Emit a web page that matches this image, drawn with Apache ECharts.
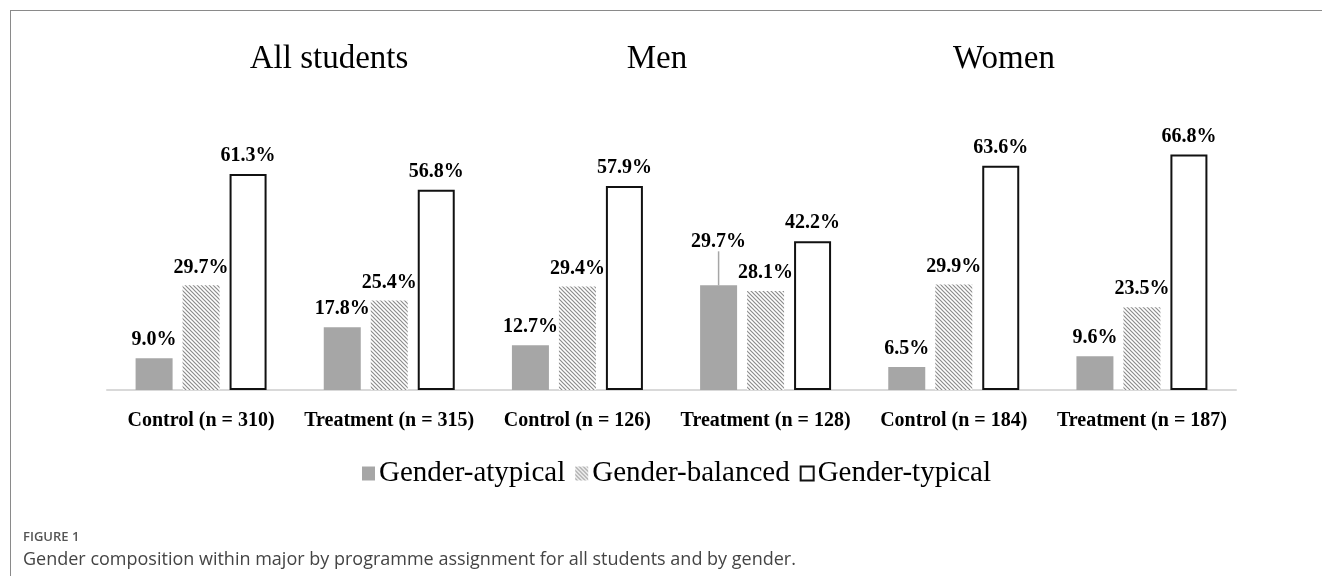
<!DOCTYPE html>
<html>
<head>
<meta charset="utf-8">
<script src="https://cdn.jsdelivr.net/npm/echarts@6/dist/echarts.min.js"></script>
<style>
  html, body { margin: 0; padding: 0; background: #fff; }
  #frame { position: absolute; left: 10px; top: 10px; right: 0; bottom: 0;
           border-left: 1px solid #8a8a8a; border-top: 1px solid #8a8a8a; }
  #chart { position: absolute; left: 0; top: 0; width: 1322px; height: 576px; }
</style>
</head>
<body>
<div id="frame"></div>
<div id="chart"></div>
<script>
const categories = ["Control (n = 310)", "Treatment (n = 315)", "Control (n = 126)",
                    "Treatment (n = 128)", "Control (n = 184)", "Treatment (n = 187)"];
const groupTitles = ["All students", "Men", "Women"];
const atypical = [9.0, 17.8, 12.7, 29.7, 6.5, 9.6];
const balanced = [29.7, 25.4, 29.4, 28.1, 29.9, 23.5];
const typical = [61.3, 56.8, 57.9, 42.2, 63.6, 66.8];

const serif = "'Liberation Serif', 'Times New Roman', serif";
const movedLabel = 3; // the Men/Treatment atypical label sits higher, with a leader line

// diagonal hatch for gender-balanced
function hatch() {
    const s = 4;
    const c = document.createElement("canvas");
    c.width = s; c.height = s;
    const g = c.getContext("2d");
    g.fillStyle = "#fff";
    g.fillRect(0, 0, s, s);
    g.strokeStyle = "#8c8c8c";
    g.lineWidth = 1.2;
    g.beginPath();
    g.moveTo(0, 0); g.lineTo(s, s);
    g.moveTo(-1, s - 1); g.lineTo(1, s + 1);
    g.moveTo(s - 1, -1); g.lineTo(s + 1, 1);
    g.stroke();
    return { image: c, repeat: "repeat" };
}

const barLabel = {
    show: true,
    position: "top",
    distance: 8,
    color: "#000",
    fontFamily: serif,
    fontWeight: "bold",
    fontSize: 20,
    formatter: p => p.value.toFixed(1) + "%"
};

const titleStyle = { fontFamily: serif, fontWeight: "normal", fontSize: 33, color: "#000" };

const chart = echarts.init(document.getElementById("chart"));
chart.setOption({
    animation: false,
    title: [
        { text: groupTitles[0], left: 324, top: 38, textAlign: "center", textStyle: titleStyle },
        { text: groupTitles[1], left: 652, top: 38, textAlign: "center", textStyle: titleStyle },
        { text: groupTitles[2], left: 999, top: 38, textAlign: "center", textStyle: titleStyle },
        { text: "FIGURE 1", left: 18, top: 526,
          textStyle: { fontFamily: "'Open Sans', sans-serif", fontWeight: 600, fontSize: 13, color: "#555" } },
        { text: "Gender composition within major by programme assignment for all students and by gender.",
          left: 18, top: 546,
          textStyle: { fontFamily: "'Open Sans', sans-serif", fontWeight: "normal", fontSize: 18, color: "#444" } }
    ],
    legend: {
        left: 357,
        top: 454,
        icon: "rect",
        itemWidth: 13,
        itemHeight: 14,
        itemGap: 10,
        textStyle: { fontFamily: serif, fontSize: 29, color: "#000", padding: [0, 0, 0, -1] },
        data: ["Gender-atypical", "Gender-balanced", "Gender-typical"]
    },
    grid: { left: 107, right: 86, top: 143.3, bottom: 186 },
    xAxis: {
        type: "category",
        data: categories,
        axisLine: { lineStyle: { color: "#d9d9d9", width: 2 } },
        axisTick: { show: false },
        axisLabel: { interval: 0, fontFamily: serif, fontWeight: "bold", fontSize: 20, color: "#000", margin: 21 }
    },
    yAxis: {
        type: "value",
        min: 0,
        max: 70,
        show: false
    },
    series: [
        {
            name: "Gender-atypical",
            type: "bar",
            data: atypical.map((v, i) => ({ value: v, labelLine: { show: i === movedLabel } })),
            barWidth: 37,
            barGap: "27%",
            itemStyle: { color: "#a6a6a6" },
            label: barLabel,
            labelLayout: p => (p.dataIndex === movedLabel ? { dy: -26 } : {}),
            labelLine: { show: false, lineStyle: { color: "#a6a6a6", width: 1.5 } }
        },
        {
            name: "Gender-balanced",
            type: "bar",
            data: balanced,
            barWidth: 37,
            itemStyle: { color: hatch() },
            label: barLabel
        },
        {
            name: "Gender-typical",
            type: "bar",
            data: typical,
            barWidth: 37,
            itemStyle: { color: "#fff", borderColor: "#111", borderWidth: 2 },
            label: barLabel
        }
    ]
});
</script>
</body>
</html>
